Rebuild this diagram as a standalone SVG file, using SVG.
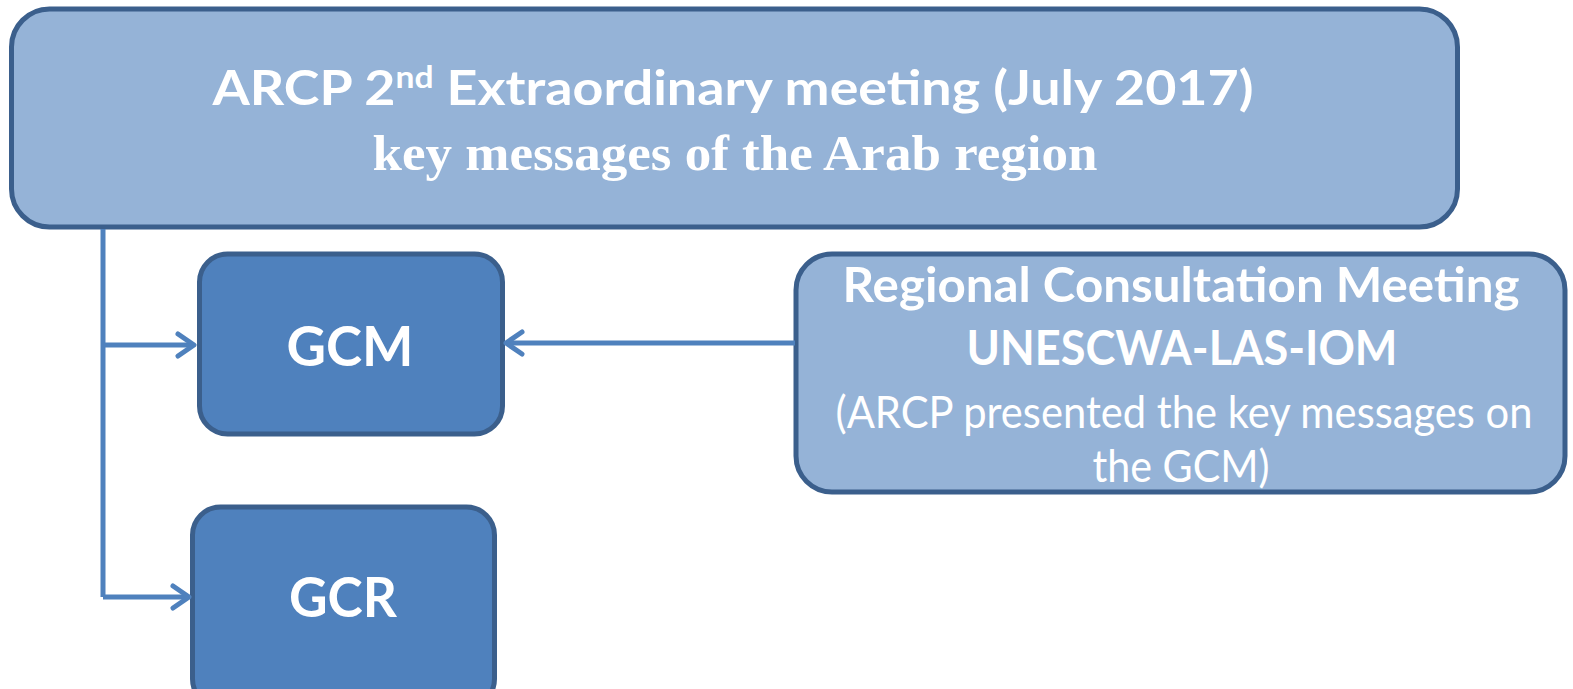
<svg xmlns="http://www.w3.org/2000/svg" width="1573" height="689" viewBox="0 0 1573 689">
<style>
.light{fill:#95B3D7;stroke:#3B5F8C;stroke-width:5}
.dark{fill:#4F81BD;stroke:#3B5F8C;stroke-width:5}
.t{fill:#fff;font-family:Lato,"Open Sans",sans-serif;text-anchor:middle}
.b{font-weight:bold}
.serif{font-family:"Liberation Serif",serif;font-weight:bold}
.conn{stroke:#4F81BD;stroke-width:5;fill:none}
</style>
<defs>
<marker id="arr" markerWidth="24" markerHeight="30" refX="19" refY="15" orient="auto" markerUnits="userSpaceOnUse">
<path d="M3,4 L19,15 L3,26" fill="none" stroke="#4F81BD" stroke-width="5" stroke-linecap="round" stroke-linejoin="round"/>
</marker>
</defs>
<g id="top">
<rect class="light" x="11.5" y="9" width="1446" height="218" rx="38"/>
<text class="t b" x="733" y="105" font-size="48" textLength="1041" lengthAdjust="spacingAndGlyphs">ARCP 2<tspan font-size="30" dy="-17">nd</tspan><tspan dy="17"> Extraordinary meeting (July 2017)</tspan></text>
<text class="t serif" x="735" y="170" font-size="50" textLength="725" lengthAdjust="spacingAndGlyphs">key messages of the Arab region</text>
</g>
<g id="gcm">
<rect class="dark" x="199.5" y="254" width="303" height="180" rx="28"/>
<text class="t b" x="350" y="366" font-size="56" textLength="127" lengthAdjust="spacingAndGlyphs">GCM</text>
</g>
<g id="gcr">
<rect class="dark" x="192.5" y="507" width="302" height="200" rx="28"/>
<text class="t b" x="343" y="617" font-size="56" textLength="108" lengthAdjust="spacingAndGlyphs">GCR</text>
</g>
<g id="rcm">
<rect class="light" x="796" y="254" width="769" height="238" rx="36"/>
<text class="t b" x="1181" y="302" font-size="47" textLength="677" lengthAdjust="spacingAndGlyphs">Regional Consultation Meeting</text>
<text class="t b" x="1182" y="365" font-size="47" textLength="431" lengthAdjust="spacingAndGlyphs">UNESCWA-LAS-IOM</text>
<text class="t" x="1184" y="428" font-size="45" textLength="697" lengthAdjust="spacingAndGlyphs">(ARCP presented the key messages on</text>
<text class="t" x="1181" y="482" font-size="45" textLength="177" lengthAdjust="spacingAndGlyphs">the GCM)</text>
</g>
<g id="connectors">
<path class="conn" d="M103,229 L103,597"/>
<path class="conn" d="M103,345 L194,345" marker-end="url(#arr)"/>
<path class="conn" d="M103,597 L189,597" marker-end="url(#arr)"/>
<path class="conn" d="M795,343 L506,343" marker-end="url(#arr)"/>
</g>
</svg>
